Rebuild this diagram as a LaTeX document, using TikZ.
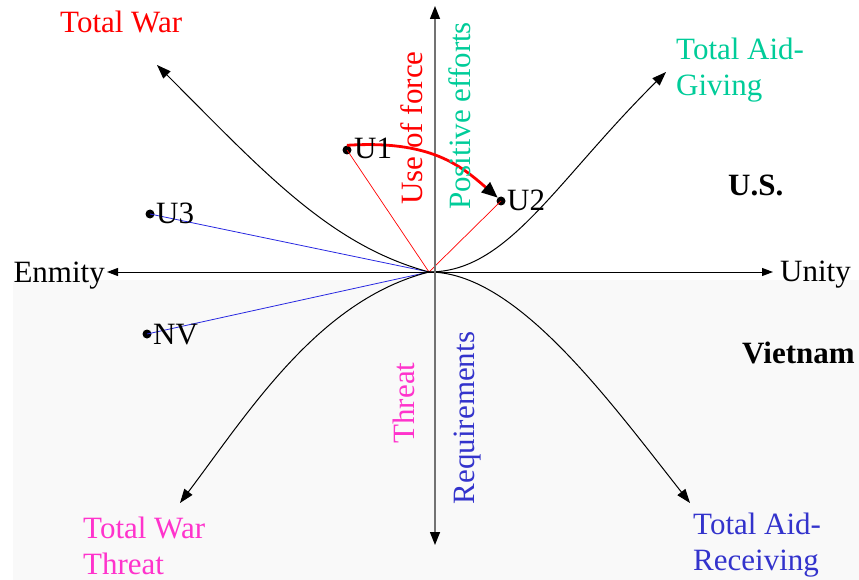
\documentclass[tikz,border=0pt]{standalone}
\usepackage{fontspec}
\setmainfont{Liberation Serif}
\usetikzlibrary{arrows.meta}
\definecolor{cgreen}{RGB}{0,204,153}
\definecolor{cpink}{RGB}{255,51,204}
\definecolor{cblue}{RGB}{51,51,204}
\definecolor{lineblue}{RGB}{40,40,225}
\begin{document}
\begin{tikzpicture}[x=1pt,y=-1pt,
  txt/.style={font=\fontsize{31}{36}\selectfont, inner sep=0pt},
  dot/.style={circle, fill=black, inner sep=0pt, minimum size=9pt},
  tipstyle/.style={-{Triangle[length=14pt,width=10pt]}},
  curve/.style={black, line width=1pt, tipstyle},
  thin red/.style={red, line width=0.7pt},
  thin blue/.style={lineblue, line width=0.8pt}]
\useasboundingbox (0,0) rectangle (859,580);
\fill[black!2.5] (13,280) rectangle (859,580);
% key coordinates
\coordinate (o) at (429,272);
\coordinate (ulend) at (157,65);
\coordinate (urend) at (666,72);
\coordinate (llend) at (180,503);
\coordinate (lrend) at (690,503);
\coordinate (vtop) at (435,6);
\coordinate (vbot) at (435,545);
\coordinate (hl) at (107,272);
\coordinate (hr) at (773,272);
% points
\node[dot] (u1) at (347,150) {};
\node[dot] (u2) at (501,201) {};
\node[dot] (u3) at (150,214) {};
\node[dot] (nv) at (147,334) {};
% thin lines
\draw[thin red] (o) -- (u1.center);
\draw[thin red] (o) -- (u2.center);
\draw[thin blue] (o) -- (u3.center);
\draw[thin blue] (o) -- (nv.center);
% curves
\draw[curve] (o) .. controls (329,245) and (262,170) .. (ulend);
\draw[curve] (o) .. controls (508,272) and (555,182) .. (urend);
\draw[curve] (o) .. controls (319,300) and (250,410) .. (llend);
\draw[curve] (o) .. controls (515,272) and (605,395) .. (lrend);
% axes
\draw[black, line width=1pt, {Triangle[length=11pt,width=8pt]}-{Triangle[length=11pt,width=8pt]}] (hl) -- (hr);
\draw[black!55, line width=1.4pt, {Triangle[length=13pt,width=10pt,color=black,fill=black]}-{Triangle[length=13pt,width=10pt,color=black,fill=black]}] (vtop) -- (vbot);
% thick red curved arrow
\draw[red, line width=2.8pt, -{Triangle[length=16pt,width=13pt,color=black,fill=black]}] (u1.north) .. controls (430,140) and (460,165) .. (u2.north west);
% labels
\node[txt, anchor=base west] (lu1) at (354,159) {U1};
\node[txt, anchor=base west] (lu2) at (507,211) {U2};
\node[txt, anchor=base west] (lu3) at (156,223) {U3};
\node[txt, anchor=base west] (lnv) at (153,344) {NV};
\node[txt, anchor=base east] (enm) at (105,282) {Enmity};
\node[txt, anchor=base west] (uni) at (780,281) {Unity};
\node[txt, anchor=base west, font=\fontsize{31}{36}\selectfont\bfseries] (us) at (728,196) {U.S.};
\node[txt, anchor=base west, font=\fontsize{31}{36}\selectfont\bfseries] (vn) at (742,363) {Vietnam};
\node[txt, text=red, anchor=base west] (tw) at (60,33) {Total War};
\node[txt, text=cgreen, anchor=north west, align=left] (tag) at (676,38) {Total Aid-\\Giving};
\node[txt, text=cpink, anchor=north west, align=left] (twt) at (83,517) {Total War\\Threat};
\node[txt, text=cblue, anchor=north west, align=left] (tar) at (693,513) {Total Aid-\\Receiving};
\node[txt, text=red, rotate=90] (uof) at (412,128) {Use of force};
\node[txt, text=cgreen, rotate=90] (pe) at (460,116) {Positive efforts};
\node[txt, text=cpink, rotate=90] (thr) at (404,403) {Threat};
\node[txt, text=cblue, rotate=90] (req) at (468,418) {Requirements};
\end{tikzpicture}
\end{document}
